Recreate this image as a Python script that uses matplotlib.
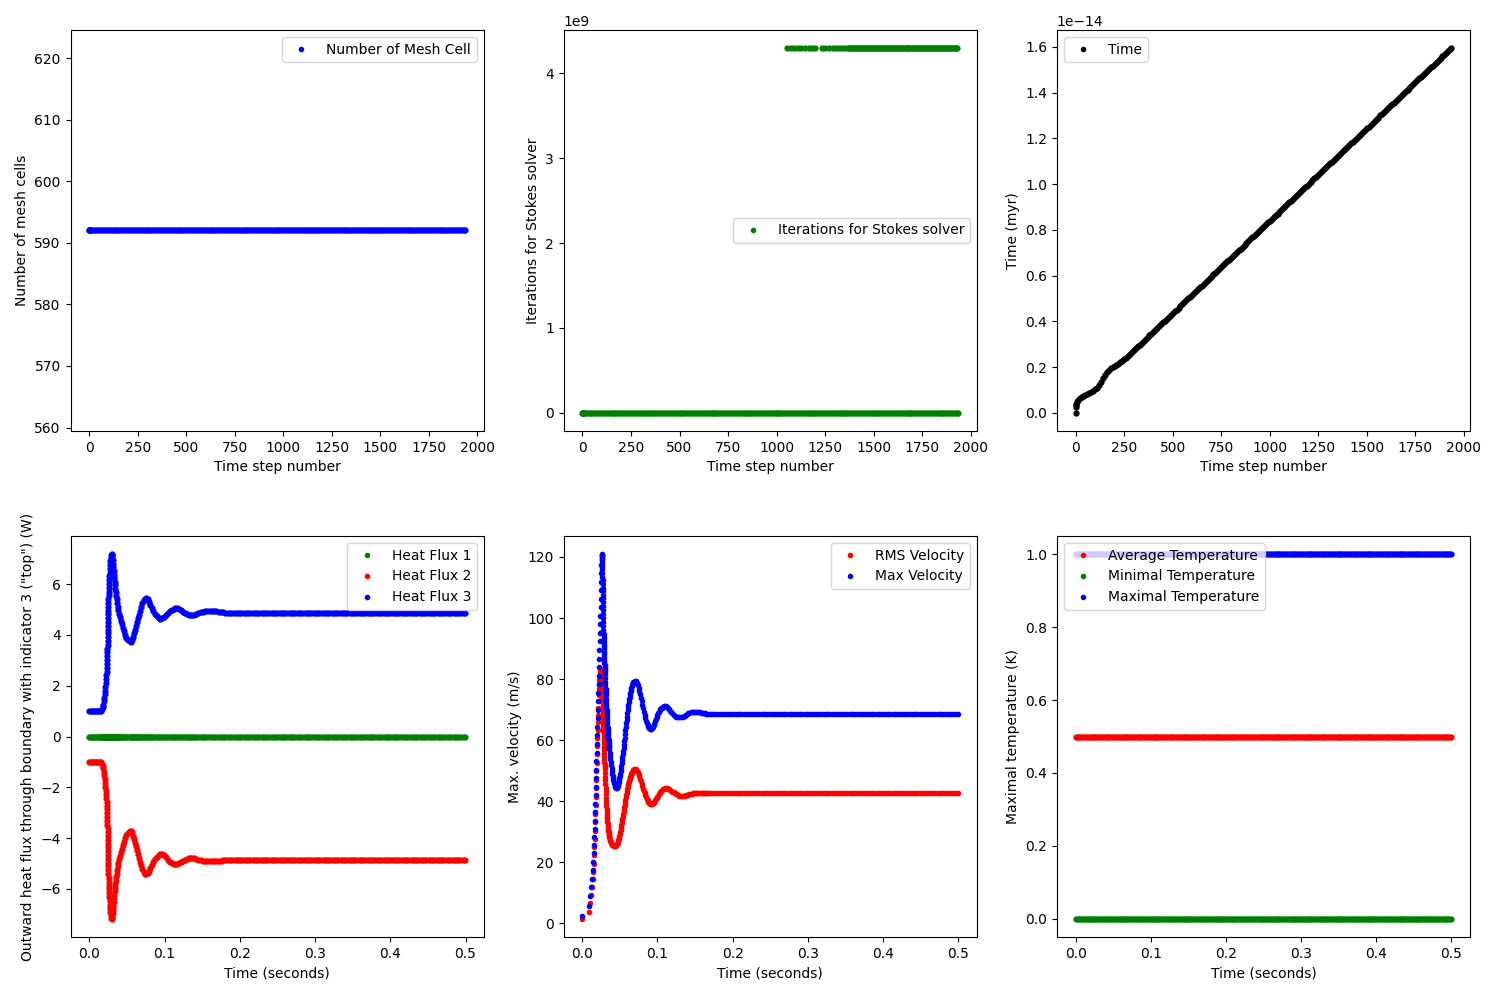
import numpy as np
import matplotlib
matplotlib.use("Agg")
import matplotlib.pyplot as plt

# ---------------- top row: per time step ----------------
steps = np.concatenate([[0, 1, 2, 3, 5], np.arange(10, 1931, 10), [1935]])

# model time in units of 1e-14 myr
time_myr_e14 = [
    0.000, 0.027, 0.034, 0.040, 0.047,
    # steps 10..240
    0.056, 0.064, 0.070, 0.075, 0.079, 0.083, 0.087, 0.091, 0.096, 0.102,
    0.109, 0.120, 0.134, 0.151, 0.166, 0.178, 0.187, 0.194, 0.199, 0.204,
    0.209, 0.215, 0.221, 0.227,
    # steps 250..590
    0.233, 0.241, 0.249, 0.257, 0.265, 0.273, 0.281, 0.290, 0.298, 0.306,
    0.314, 0.322, 0.330, 0.338, 0.346, 0.354, 0.362, 0.370, 0.378, 0.387,
    0.395, 0.403, 0.411, 0.419, 0.427, 0.435, 0.443, 0.451, 0.459, 0.467,
    0.475, 0.484, 0.492, 0.500, 0.508,
    # steps 600..1930
    0.516, 0.524, 0.532, 0.540, 0.548, 0.556, 0.564, 0.573, 0.581, 0.589,
    0.597, 0.605, 0.613, 0.621, 0.629, 0.637, 0.645, 0.654, 0.662, 0.670,
    0.678, 0.686, 0.694, 0.702, 0.710, 0.718, 0.726, 0.735, 0.743, 0.751,
    0.759, 0.767, 0.775, 0.783, 0.791, 0.799, 0.807, 0.816, 0.824, 0.832,
    0.839, 0.847, 0.855, 0.863, 0.871, 0.879, 0.887, 0.896, 0.904, 0.912,
    0.920, 0.928, 0.936, 0.944, 0.952, 0.960, 0.968, 0.977, 0.985, 0.993,
    1.001, 1.009, 1.017, 1.025, 1.033, 1.041, 1.049, 1.058, 1.066, 1.074,
    1.082, 1.090, 1.098, 1.106, 1.114, 1.122, 1.130, 1.139, 1.147, 1.155,
    1.162, 1.170, 1.178, 1.186, 1.194, 1.202, 1.210, 1.219, 1.227, 1.235,
    1.243, 1.251, 1.259, 1.267, 1.275, 1.283, 1.291, 1.300, 1.308, 1.316,
    1.324, 1.332, 1.340, 1.348, 1.356, 1.364, 1.372, 1.381, 1.389, 1.397,
    1.405, 1.413, 1.421, 1.429, 1.437, 1.445, 1.453, 1.462, 1.470, 1.478,
    1.486, 1.494, 1.502, 1.510, 1.518, 1.526, 1.534, 1.543, 1.551, 1.559,
    1.566, 1.574, 1.582, 1.590,
    1.594,
]

mesh_cells_value = 592
stokes_iter_value = 0
# steps where the solver reports 4294967295 iterations
stokes_fail_value = 4294967295
stokes_fail_steps = np.concatenate([
    [1056, 1075, 1092, 1110, 1128, 1146, 1165, 1183, 1200],
    [1232, 1250, 1268, 1290, 1308],
    [1322, 1338, 1352],
    np.arange(1366, 1935, 6),
])

# ---------------- heat flux vs time (s) ----------------
flux_t = [
    0.0000, 0.0020, 0.0040, 0.0060, 0.0080, 0.0100, 0.0120, 0.0140, 0.0155, 0.0170,
    0.0180, 0.0188, 0.0195, 0.0201, 0.0206, 0.0211, 0.0215, 0.0219, 0.0223, 0.0226,
    0.0229, 0.0232, 0.0235, 0.0237, 0.0239, 0.0241, 0.0242, 0.0243, 0.0244, 0.0245,
    0.0246, 0.0247, 0.0248, 0.0249, 0.0250, 0.0251, 0.0252, 0.0253, 0.0254, 0.0255,
    0.0256, 0.0258, 0.0260, 0.0262, 0.0264, 0.0266, 0.0269, 0.0272, 0.0275, 0.0279,
    0.0284, 0.0290, 0.0296, 0.0302, 0.0307, 0.0311, 0.0315, 0.0319, 0.0323, 0.0327,
    0.0331, 0.0336, 0.0341, 0.0346, 0.0352, 0.0358, 0.0365, 0.0372, 0.0380, 0.0388,
    0.0397, 0.0407, 0.0418, 0.0430, 0.0443, 0.0458, 0.0475, 0.0494, 0.0515, 0.0535,
    0.0555, 0.0572, 0.0587, 0.0600, 0.0612, 0.0624, 0.0636, 0.0648, 0.0661, 0.0675,
    0.0690, 0.0706, 0.0724, 0.0742, 0.0760, 0.0778, 0.0795, 0.0812, 0.0830, 0.0850,
    0.0872, 0.0895, 0.0920, 0.0945, 0.0970, 0.0995, 0.1020, 0.1045, 0.1070, 0.1095,
    0.1120, 0.1145, 0.1170, 0.1195, 0.1220, 0.1245, 0.1270, 0.1295, 0.1320, 0.1345,
    0.1370, 0.1395, 0.1420, 0.1450, 0.1480, 0.1510, 0.1540, 0.1570, 0.1600, 0.1630,
    0.1660, 0.1690, 0.1720, 0.1750, 0.1780,
]
flux3 = [
    1.00, 1.00, 1.00, 1.00, 1.00, 1.00, 1.00, 1.00, 1.02, 1.08,
    1.15, 1.25, 1.38, 1.52, 1.66, 1.81, 1.96, 2.11, 2.26, 2.41,
    2.56, 2.71, 2.86, 3.01, 3.16, 3.31, 3.46, 3.61, 3.76, 3.91,
    4.06, 4.21, 4.36, 4.51, 4.66, 4.81, 4.96, 5.11, 5.26, 5.41,
    5.56, 5.71, 5.86, 6.01, 6.16, 6.31, 6.46, 6.61, 6.76, 6.91,
    7.04, 7.14, 7.18, 7.15, 7.06, 6.94, 6.80, 6.66, 6.52, 6.38,
    6.24, 6.10, 5.96, 5.82, 5.68, 5.54, 5.40, 5.26, 5.12, 4.98,
    4.84, 4.70, 4.56, 4.42, 4.28, 4.14, 4.01, 3.89, 3.80, 3.75,
    3.74, 3.80, 3.92, 4.06, 4.20, 4.35, 4.50, 4.65, 4.80, 4.95,
    5.10, 5.24, 5.36, 5.43, 5.45, 5.40, 5.31, 5.20, 5.08, 4.96,
    4.84, 4.74, 4.67, 4.64, 4.65, 4.70, 4.77, 4.86, 4.94, 5.00,
    5.04, 5.06, 5.05, 5.02, 4.97, 4.92, 4.87, 4.83, 4.80, 4.78,
    4.78, 4.79, 4.82, 4.86, 4.89, 4.91, 4.93, 4.94, 4.95, 4.95,
    4.94, 4.93, 4.92, 4.91, 4.90,
]
flux2 = [
    -1.00, -1.00, -1.00, -1.00, -1.00, -1.00, -1.00, -1.00, -1.02, -1.08,
    -1.16, -1.26, -1.39, -1.53, -1.67, -1.82, -1.97, -2.12, -2.27, -2.42,
    -2.57, -2.72, -2.87, -3.02, -3.17, -3.32, -3.47, -3.62, -3.77, -3.92,
    -4.07, -4.22, -4.37, -4.52, -4.67, -4.82, -4.97, -5.12, -5.27, -5.42,
    -5.57, -5.72, -5.87, -6.02, -6.17, -6.32, -6.47, -6.62, -6.77, -6.92,
    -7.05, -7.14, -7.18, -7.15, -7.06, -6.94, -6.80, -6.66, -6.52, -6.38,
    -6.24, -6.10, -5.96, -5.82, -5.68, -5.54, -5.40, -5.26, -5.12, -4.98,
    -4.84, -4.70, -4.56, -4.42, -4.28, -4.14, -4.01, -3.89, -3.80, -3.74,
    -3.72, -3.78, -3.90, -4.04, -4.18, -4.33, -4.48, -4.63, -4.78, -4.93,
    -5.08, -5.22, -5.34, -5.41, -5.42, -5.38, -5.30, -5.19, -5.07, -4.95,
    -4.83, -4.73, -4.66, -4.62, -4.63, -4.68, -4.76, -4.85, -4.93, -4.99,
    -5.02, -5.03, -5.02, -4.99, -4.95, -4.90, -4.86, -4.82, -4.80, -4.79,
    -4.79, -4.80, -4.82, -4.85, -4.88, -4.90, -4.91, -4.92, -4.92, -4.92,
    -4.91, -4.90, -4.89, -4.89, -4.88,
]
flux_tail_t = np.arange(0.181, 0.5005, 0.003)
flux1_tail, flux2_tail, flux3_tail = 0.0, -4.88, 4.88

# ---------------- velocities vs time (s) ----------------
vel_t_rise = [
    0.0004, 0.0084, 0.0106, 0.0120, 0.0134, 0.0144, 0.0150, 0.0155, 0.0159, 0.0163,
    0.0166, 0.0169, 0.0172, 0.0175, 0.0178, 0.0181, 0.0184, 0.0187, 0.0190, 0.0193,
    0.0196, 0.0199, 0.0202, 0.0205, 0.0208, 0.0211, 0.0214, 0.0217, 0.0220, 0.0223,
    0.0226, 0.0229, 0.0232, 0.0235, 0.0238, 0.0241, 0.0244, 0.0247, 0.0250, 0.0252,
    0.0254, 0.0256,
]
vmax_rise = [
    2.4, 5.7, 8.9, 11.9, 14.6, 17.3, 20.0, 22.8, 25.5, 28.2,
    30.9, 33.6, 36.4, 39.1, 41.9, 44.7, 47.5, 50.3, 53.1, 55.9,
    58.7, 61.5, 64.3, 67.1, 69.9, 72.7, 75.5, 78.3, 81.1, 83.9,
    86.7, 89.5, 92.3, 95.1, 97.9, 100.7, 103.5, 106.3, 109.1, 111.9,
    114.7, 117.3,
]
vrms_rise = [
    1.4, 3.7, 6.6, 9.2, 11.9, 14.4, 16.8, 19.5, 22.2, 24.9,
    27.6, 30.3, 33.0, 35.8, 38.6, 41.4, 44.2, 47.0, 49.8, 52.6,
    55.4, 58.1, 60.8, 63.4, 65.9, 68.3, 70.6, 72.8, 74.8, 76.6,
    78.2, 79.6, 80.8, 81.8, 82.5, 83.0, 83.2, 83.0, 82.6, 82.1,
    81.5, 80.8,
]
# read on a 0.0001 s grid, 0.0257 .. 0.0300
vmax_drop = [
    119.2, 120.2, 120.7, 120.9, 120.8, 120.4, 119.8, 119.0, 118.1, 117.1,
    116.0, 114.8, 113.6, 112.4, 111.2, 110.0, 108.8, 107.6, 106.4, 105.1,
    103.8, 102.5, 101.2, 99.9, 98.6, 97.3, 96.0, 94.9, 93.9, 93.0,
    92.1, 91.3, 90.5, 89.7, 88.9, 88.1, 87.3, 86.6, 85.9, 85.2,
    84.6, 84.0, 83.3, 82.7,
]
vrms_drop = [
    80.4, 80.0, 79.5, 79.0, 78.5, 78.0, 77.4, 76.8, 76.2, 75.6,
    75.0, 74.4, 73.8, 73.2, 72.5, 71.8, 71.0, 70.2, 69.4, 68.6,
    67.8, 67.0, 66.2, 65.4, 64.6, 63.8, 63.0, 62.2, 61.4, 60.6,
    59.8, 59.0, 58.2, 57.4, 56.6, 55.8, 55.0, 54.3, 53.6, 52.9,
    52.2, 51.6, 51.0, 50.4,
]
# 0.0002 s grid, 0.0302 .. 0.0360
vmax_c = [
    81.5, 80.3, 79.1, 77.9, 76.7, 75.6, 74.6, 73.6, 72.6, 71.6,
    70.6, 69.7, 68.8, 67.9, 67.1, 66.3, 65.5, 64.7, 64.0, 63.3,
    62.6, 61.9, 61.2, 60.5, 59.9, 59.3, 58.7, 58.1, 57.6, 57.1,
]
vrms_c = [
    49.2, 48.0, 46.8, 45.6, 44.4, 43.3, 42.2, 41.1, 40.1, 39.2,
    38.3, 37.4, 36.6, 35.8, 35.0, 34.3, 33.6, 33.0, 32.4, 31.9,
    31.4, 30.9, 30.5, 30.1, 29.7, 29.3, 29.0, 28.7, 28.4, 28.1,
]
# 0.0005 s grid, 0.0365 .. 0.0680
vmax_d = [
    55.9, 54.8, 53.7, 52.7, 51.7, 50.8, 49.9, 49.0, 48.3, 47.6,
    47.0, 46.4, 45.9, 45.4, 45.0, 44.7, 44.5, 44.3, 44.3, 44.4,
    44.5, 44.8, 45.2, 45.7, 46.3, 46.9, 47.6, 48.3, 49.0, 49.8,
    50.6, 51.5, 52.4, 53.4, 54.4, 55.4, 56.4, 57.4, 58.5, 59.6,
    60.8, 62.0, 63.2, 64.4, 65.5, 66.6, 67.7, 68.7, 69.7, 70.7,
    71.6, 72.5, 73.3, 74.1, 74.8, 75.5, 76.1, 76.7, 77.2, 77.7,
    78.1, 78.4, 78.7, 78.9,
]
vrms_d = [
    27.6, 27.2, 26.8, 26.5, 26.2, 26.0, 25.8, 25.7, 25.6, 25.5,
    25.5, 25.4, 25.4, 25.4, 25.4, 25.4, 25.5, 25.5, 25.6, 25.8,
    26.0, 26.3, 26.7, 27.1, 27.6, 28.1, 28.6, 29.2, 29.9, 30.6,
    31.3, 32.0, 32.7, 33.4, 34.1, 34.8, 35.6, 36.4, 37.2, 38.0,
    38.8, 39.6, 40.4, 41.2, 42.0, 42.7, 43.4, 44.0, 44.6, 45.2,
    45.7, 46.2, 46.7, 47.1, 47.5, 47.9, 48.3, 48.7, 49.0, 49.3,
    49.6, 49.9, 50.1, 50.3,
]
# 0.001 s grid, 0.069 .. 0.111
vmax_e = [
    79.1, 79.2, 79.2, 79.0, 78.6, 77.9, 77.1, 76.1, 75.0, 73.9,
    72.7, 71.5, 70.4, 69.3, 68.2, 67.2, 66.3, 65.5, 64.8, 64.2,
    63.8, 63.6, 63.5, 63.6, 63.9, 64.3, 64.8, 65.4, 66.1, 66.8,
    67.5, 68.1, 68.7, 69.2, 69.7, 70.1, 70.4, 70.6, 70.8, 70.9,
    71.0, 71.0, 71.0,
]
vrms_e = [
    50.5, 50.6, 50.5, 50.3, 49.9, 49.4, 48.8, 48.1, 47.3, 46.5,
    45.7, 44.9, 44.1, 43.3, 42.6, 41.9, 41.3, 40.7, 40.2, 39.8,
    39.4, 39.1, 38.9, 38.9, 39.0, 39.2, 39.5, 39.8, 40.2, 40.6,
    41.0, 41.4, 41.8, 42.2, 42.6, 43.0, 43.3, 43.6, 43.8, 44.0,
    44.1, 44.2, 44.3,
]
# 0.0015 s grid, 0.1125 .. 0.1695
vmax_f = [
    70.8, 70.5, 70.1, 69.6, 69.1, 68.7, 68.3, 68.0, 67.7, 67.5,
    67.4, 67.4, 67.4, 67.5, 67.6, 67.8, 68.0, 68.2, 68.5, 68.7,
    68.9, 69.1, 69.2, 69.3, 69.3, 69.3, 69.3, 69.3, 69.2, 69.1,
    69.0, 68.9, 68.8, 68.7, 68.7, 68.6, 68.6, 68.6, 68.6,
]
vrms_f = [
    44.2, 44.0, 43.8, 43.6, 43.4, 43.1, 42.9, 42.6, 42.4, 42.2,
    42.0, 41.8, 41.7, 41.6, 41.6, 41.7, 41.8, 41.9, 42.0, 42.1,
    42.2, 42.3, 42.4, 42.5, 42.6, 42.6, 42.6, 42.6, 42.6, 42.6,
    42.6, 42.5, 42.5, 42.5, 42.5, 42.5, 42.5, 42.5, 42.5,
]
vel_tail_t = np.arange(0.1725, 0.5005, 0.003)
vmax_tail, vrms_tail = 68.6, 42.5

# ---------------- temperatures vs time (s) ----------------
temp_t = np.arange(0.0, 0.50001, 0.0025)
temp_avg, temp_min, temp_max = 0.5, 0.0, 1.0

# ---------------- assemble ----------------
steps_arr = np.asarray(steps)
time_myr = np.asarray(time_myr_e14) * 1e-14

it_x = np.concatenate([steps_arr, stokes_fail_steps])
it_y = np.concatenate([np.full(len(steps_arr), stokes_iter_value),
                       np.full(len(stokes_fail_steps), stokes_fail_value)])

fl_t = np.concatenate([flux_t, flux_tail_t])
fl1 = np.concatenate([np.full(len(flux_t), flux1_tail), np.full(len(flux_tail_t), flux1_tail)])
fl2 = np.concatenate([flux2, np.full(len(flux_tail_t), flux2_tail)])
fl3 = np.concatenate([flux3, np.full(len(flux_tail_t), flux3_tail)])

vel_t = np.concatenate([
    vel_t_rise,
    np.arange(0.0257, 0.03005, 0.0001),
    np.arange(0.0302, 0.0361, 0.0002),
    np.arange(0.0365, 0.06805, 0.0005),
    np.arange(0.069, 0.1115, 0.001),
    np.arange(0.1125, 0.17025, 0.0015),
    vel_tail_t,
])
vmax = np.concatenate([vmax_rise, vmax_drop, vmax_c, vmax_d, vmax_e, vmax_f,
                       np.full(len(vel_tail_t), vmax_tail)])
vrms = np.concatenate([vrms_rise, vrms_drop, vrms_c, vrms_d, vrms_e, vrms_f,
                       np.full(len(vel_tail_t), vrms_tail)])

# ---------------- plot ----------------
ms = 7  # dense runs of dots read as solid bands in the original
fig, axes = plt.subplots(2, 3, figsize=(15, 10))
fig.subplots_adjust(left=0.047, right=0.98, top=0.97, bottom=0.063,
                    wspace=0.194, hspace=0.262)

ax = axes[0, 0]
ax.plot(steps_arr, np.full(len(steps_arr), mesh_cells_value), '.', ms=ms, color='b', label='Number of Mesh Cell')
ax.set_xlabel('Time step number')
ax.set_ylabel('Number of mesh cells')
ax.legend(loc='upper right', markerscale=6 / ms)

ax = axes[0, 1]
ax.plot(it_x, it_y, '.', ms=ms, color='g', label='Iterations for Stokes solver')
ax.set_xlabel('Time step number')
ax.set_ylabel('Iterations for Stokes solver')
ax.legend(loc='center right', markerscale=6 / ms)

ax = axes[0, 2]
ax.plot(steps_arr, time_myr, '.', ms=ms, color='k', label='Time')
ax.set_xlabel('Time step number')
ax.set_ylabel('Time (myr)')
ax.legend(loc='upper left', markerscale=6 / ms)

ax = axes[1, 0]
ax.plot(fl_t, fl1, '.', ms=ms, color='g', label='Heat Flux 1')
ax.plot(fl_t, fl2, '.', ms=ms, color='r', label='Heat Flux 2')
ax.plot(fl_t, fl3, '.', ms=ms, color='b', label='Heat Flux 3')
ax.set_xlabel('Time (seconds)')
ax.set_ylabel('Outward heat flux through boundary with indicator 3 ("top") (W)')
ax.legend(loc='upper right', markerscale=6 / ms)

ax = axes[1, 1]
ax.plot(vel_t, vrms, '.', color='r', label='RMS Velocity')
ax.plot(vel_t, vmax, '.', color='b', label='Max Velocity')
ax.set_xlabel('Time (seconds)')
ax.set_ylabel('Max. velocity (m/s)')
ax.legend(loc='upper right')

ax = axes[1, 2]
ax.plot(temp_t, np.full(len(temp_t), temp_avg), '.', ms=ms, color='r', label='Average Temperature')
ax.plot(temp_t, np.full(len(temp_t), temp_min), '.', ms=ms, color='g', label='Minimal Temperature')
ax.plot(temp_t, np.full(len(temp_t), temp_max), '.', ms=ms, color='b', label='Maximal Temperature')
ax.set_xlabel('Time (seconds)')
ax.set_ylabel('Maximal temperature (K)')
ax.legend(loc='upper left', markerscale=6 / ms)

fig.savefig('out.png', dpi=100)
